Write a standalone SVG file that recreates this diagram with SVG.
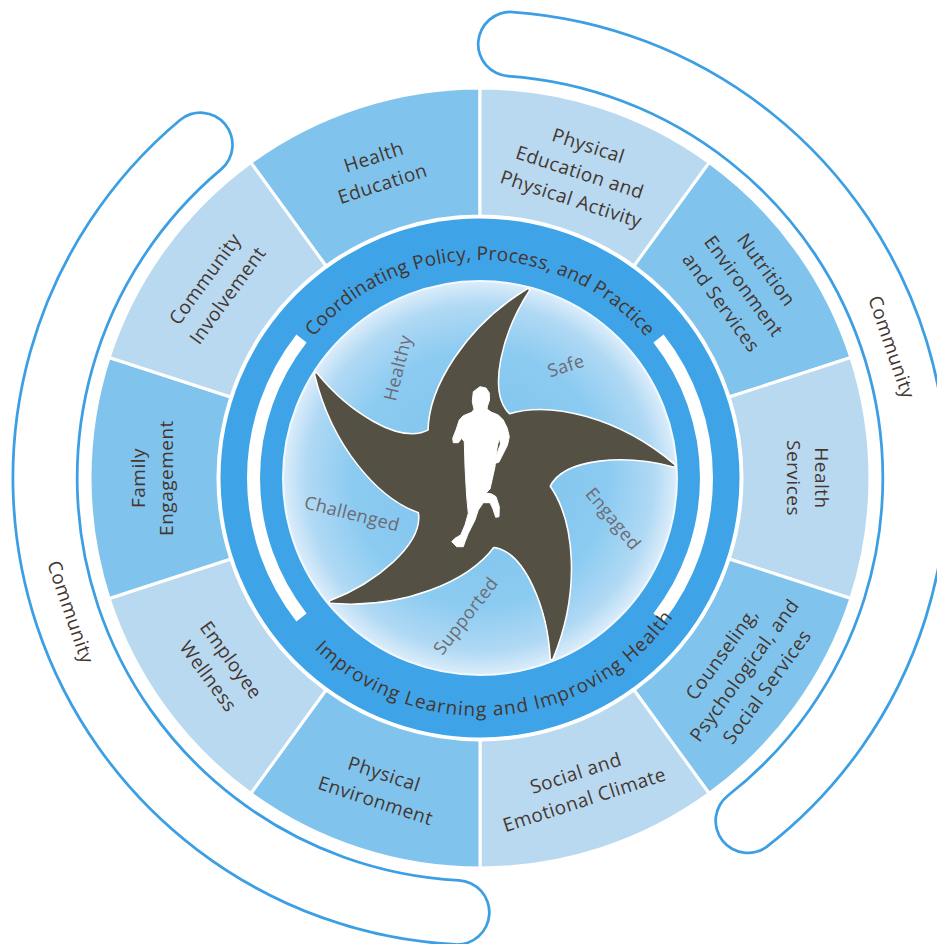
<svg xmlns="http://www.w3.org/2000/svg" width="937" height="944" viewBox="0 0 937 944">
  <defs>
    <style>
      .seg-d { fill: #80c4ed; stroke: #fff; stroke-width: 3; }
      .seg-l { fill: #b9d9f1; stroke: #fff; stroke-width: 3; }
      .lbl { font-family: "Open Sans", "Noto Sans", sans-serif; font-size: 19px; font-weight: 500; fill: #45362f; letter-spacing: 0.5px; text-anchor: middle; }
      .ring-txt { font-family: "Open Sans", "Noto Sans", sans-serif; font-size: 19px; font-weight: 500; fill: #45362f; }
      .star-lbl { font-family: "Open Sans", "Noto Sans", sans-serif; font-size: 18px; font-weight: 500; fill: #6d6a72; letter-spacing: 0.4px; text-anchor: middle; }
      .band-o { fill: none; stroke: #3d9fe3; stroke-width: 67; stroke-linecap: round; }
      .band-i { fill: none; stroke: #fff; stroke-width: 61.5; stroke-linecap: round; }
      .white-arc { fill: none; stroke: #fff; stroke-width: 13; }
    </style>
    <radialGradient id="core" cx="480" cy="478" r="197" gradientUnits="userSpaceOnUse">
      <stop offset="0" stop-color="#7cc1ed"/>
      <stop offset="0.65" stop-color="#8ccbf1"/>
      <stop offset="0.88" stop-color="#b0d9f4"/>
      <stop offset="1" stop-color="#dcedfa"/>
    </radialGradient>
    <!-- one pinwheel arm as a wedge from the hub; rotated copies build the star -->
    <path id="arm" d="M 480 478 L 429.5 430.9 C 430 388 466 328 528 290 C 502 330 484 392 509.2 415.5 Z"/>
    <path id="arcTop" d="M 291.2 369 A 218 218 0 0 1 668.8 369"/>
    <path id="arcBot" d="M 285.1 614.5 A 238 238 0 0 0 674.9 614.5"/>
  </defs>

  <rect width="937" height="944" fill="#fff"/>

  <!-- community bands -->
  <g id="community-right">
    <path class="band-o" d="M 510.3 44.1 A 435 435 0 0 1 747.8 820.8"/>
    <path class="band-i" d="M 510.3 44.1 A 435 435 0 0 1 747.8 820.8"/>
    <text class="lbl" transform="translate(892 347) rotate(71)" dy="7">Community</text>
  </g>
  <g id="community-left">
    <path class="band-o" d="M 457.2 912.4 A 435 435 0 0 1 200.4 144.8"/>
    <path class="band-i" d="M 457.2 912.4 A 435 435 0 0 1 200.4 144.8"/>
    <text class="lbl" transform="translate(71 612) rotate(71)" dy="7">Community</text>
  </g>

  <!-- outer ring of ten components -->
  <g id="health-education">
    <path class="seg-d" d="M 250.8 162.5 A 390 390 0 0 1 480 88 L 480 216 A 262 262 0 0 0 326 266 Z"/>
    <text class="lbl" transform="translate(378 170) rotate(-18)"><tspan x="0" y="-7">Health</tspan><tspan x="0" y="21">Education</tspan></text>
  </g>
  <g id="physical-education">
    <path class="seg-l" d="M 480 88 A 390 390 0 0 1 709.2 162.5 L 634 266 A 262 262 0 0 0 480 216 Z"/>
    <text class="lbl" transform="translate(580 172) rotate(18)"><tspan x="0" y="-21">Physical</tspan><tspan x="0" y="7">Education and</tspan><tspan x="0" y="35">Physical Activity</tspan></text>
  </g>
  <g id="nutrition">
    <path class="seg-d" d="M 709.2 162.5 A 390 390 0 0 1 850.9 357.5 L 729.2 397 A 262 262 0 0 0 634 266 Z"/>
    <text class="lbl" transform="translate(744 286) rotate(54)"><tspan x="0" y="-21">Nutrition</tspan><tspan x="0" y="7">Environment</tspan><tspan x="0" y="35">and Services</tspan></text>
  </g>
  <g id="health-services">
    <path class="seg-l" d="M 850.9 357.5 A 390 390 0 0 1 850.9 598.5 L 729.2 559 A 262 262 0 0 0 729.2 397 Z"/>
    <text class="lbl" transform="translate(808 478) rotate(90)"><tspan x="0" y="-7">Health</tspan><tspan x="0" y="21">Services</tspan></text>
  </g>
  <g id="counseling">
    <path class="seg-d" d="M 850.9 598.5 A 390 390 0 0 1 709.2 793.5 L 634 690 A 262 262 0 0 0 729.2 559 Z"/>
    <text class="lbl" transform="translate(744 670) rotate(-54)"><tspan x="0" y="-21">Counseling,</tspan><tspan x="0" y="7">Psychological, and</tspan><tspan x="0" y="35">Social Services</tspan></text>
  </g>
  <g id="social-emotional">
    <path class="seg-l" d="M 709.2 793.5 A 390 390 0 0 1 480 868 L 480 740 A 262 262 0 0 0 634 690 Z"/>
    <text class="lbl" transform="translate(580 786) rotate(-18)"><tspan x="0" y="-7">Social and</tspan><tspan x="0" y="21">Emotional Climate</tspan></text>
  </g>
  <g id="physical-environment">
    <path class="seg-d" d="M 480 868 A 390 390 0 0 1 250.8 793.5 L 326 690 A 262 262 0 0 0 480 740 Z"/>
    <text class="lbl" transform="translate(380 787) rotate(18)"><tspan x="0" y="-7">Physical</tspan><tspan x="0" y="21">Environment</tspan></text>
  </g>
  <g id="employee-wellness">
    <path class="seg-l" d="M 250.8 793.5 A 390 390 0 0 1 109.1 598.5 L 230.8 559 A 262 262 0 0 0 326 690 Z"/>
    <text class="lbl" transform="translate(220 668) rotate(54)"><tspan x="0" y="-7">Employee</tspan><tspan x="0" y="21">Wellness</tspan></text>
  </g>
  <g id="family-engagement">
    <path class="seg-d" d="M 109.1 598.5 A 390 390 0 0 1 109.1 357.5 L 230.8 397 A 262 262 0 0 0 230.8 559 Z"/>
    <text class="lbl" transform="translate(152 478) rotate(-90)"><tspan x="0" y="-7">Family</tspan><tspan x="0" y="21">Engagement</tspan></text>
  </g>
  <g id="community-involvement">
    <path class="seg-l" d="M 109.1 357.5 A 390 390 0 0 1 250.8 162.5 L 326 266 A 262 262 0 0 0 230.8 397 Z"/>
    <text class="lbl" transform="translate(216 287) rotate(-54)"><tspan x="0" y="-7">Community</tspan><tspan x="0" y="21">Involvement</tspan></text>
  </g>

  <!-- coordinating ring -->
  <g id="coordinating-ring">
    <circle cx="480" cy="478" r="259.5" fill="#3ea3e7"/>
    <path class="white-arc" d="M 301.5 338.6 A 226.5 226.5 0 0 0 301.5 617.4"/>
    <path class="white-arc" d="M 658.5 338.6 A 226.5 226.5 0 0 1 658.5 617.4"/>
    <text class="ring-txt"><textPath href="#arcTop" startOffset="39" textLength="378" lengthAdjust="spacing">Coordinating Policy, Process, and Practice</textPath></text>
    <text class="ring-txt"><textPath href="#arcBot" startOffset="45" textLength="408" lengthAdjust="spacing">Improving Learning and Improving Health</textPath></text>
  </g>

  <!-- core with pinwheel and runner -->
  <g id="core-circle">
    <circle cx="480" cy="478" r="197" fill="url(#core)" stroke="#f2f9fe" stroke-width="2"/>
    <g fill="#545044" stroke="#fff" stroke-width="4.5" stroke-linejoin="round">
      <use href="#arm"/>
      <use href="#arm" transform="rotate(72 480 478)"/>
      <use href="#arm" transform="rotate(144 480 478)"/>
      <use href="#arm" transform="rotate(216 480 478)"/>
      <use href="#arm" transform="rotate(288 480 478)"/>
    </g>
    <g fill="#545044" stroke="#545044" stroke-width="1.4" stroke-linejoin="round">
      <use href="#arm"/>
      <use href="#arm" transform="rotate(72 480 478)"/>
      <use href="#arm" transform="rotate(144 480 478)"/>
      <use href="#arm" transform="rotate(216 480 478)"/>
      <use href="#arm" transform="rotate(288 480 478)"/>
    </g>
    <text class="star-lbl" transform="translate(398 368) rotate(-76)" dy="6">Healthy</text>
    <text class="star-lbl" transform="translate(566 366) rotate(-18)" dy="6">Safe</text>
    <text class="star-lbl" transform="translate(613 519) rotate(50)" dy="6">Engaged</text>
    <text class="star-lbl" transform="translate(466 616) rotate(-52)" dy="6">Supported</text>
    <text class="star-lbl" transform="translate(352 514) rotate(14)" dy="6">Challenged</text>
  </g>

  <!-- running figure -->
  <g id="runner">
    <path fill="#fff" stroke="#fff" stroke-width="1" stroke-linejoin="round" d="M 480 386.7 L 486 388 L 489.3 393 L 489.5 400 L 487.5 406 L 487 409 L 491 412 L 498.3 415 L 503.3 420 L 507.3 428.3 L 509.3 436.7 L 507.5 445 L 502.5 455 L 499 462 L 495 463.5 L 496.5 455 L 500.5 444 L 499.5 438 L 497.5 445 L 496 455 L 495 466.7 L 492.5 478 L 490 489 L 486 493 L 491.7 494 L 496 496.7 L 499.3 506.7 L 499 516.7 L 495.7 517.3 L 492.7 508.3 L 490 502.7 L 483.3 502.7 L 478.3 510 L 475 520 L 468.3 533.3 L 465 541.7 L 463.3 546.7 L 456.7 546.7 L 451.7 541.7 L 455 538.3 L 460.7 535 L 465 525 L 468.3 513.3 L 466.7 496.7 L 466 485 L 465 466.7 L 464.3 441.7 L 461.7 438.3 L 458.3 442.7 L 453.3 442.7 L 452.7 438.3 L 456 430 L 459.3 420 L 463.3 415.7 L 471.7 412.3 L 474 409.3 L 472.3 401.7 L 473.3 391.7 Z"/>
  </g>
</svg>
